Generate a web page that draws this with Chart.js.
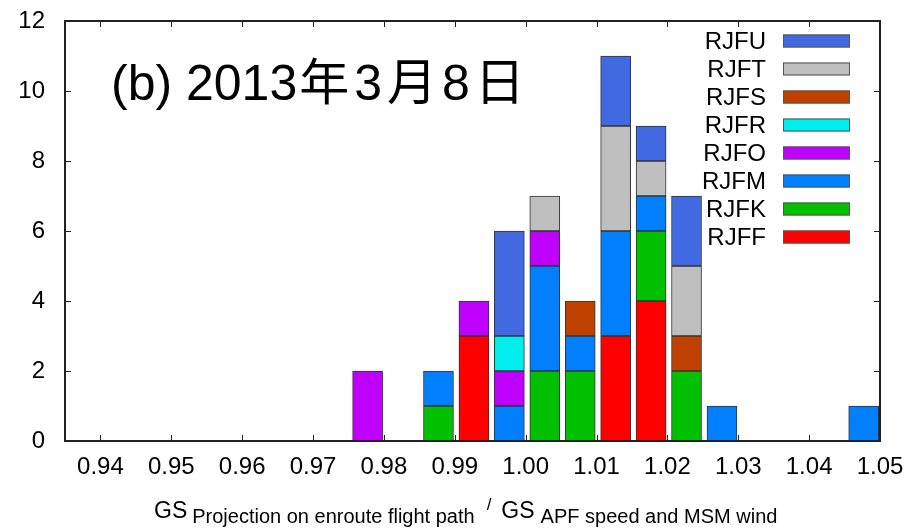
<!DOCTYPE html>
<html>
<head>
<meta charset="utf-8">
<script src="https://cdn.jsdelivr.net/npm/chart.js@4"></script>
<style>
  html, body { margin: 0; padding: 0; background: #fff; }
  #wrap { width: 908px; height: 529px; }
</style>
</head>
<body>
<div id="wrap"><canvas id="chart" width="908" height="529"></canvas></div>
<script>
// lower edge of each histogram bin
const bins = [0.975, 0.985, 0.990, 0.995, 1.000, 1.005, 1.010, 1.015, 1.020, 1.025, 1.045];
const barShift = 0.0027;

// counts per station, bottom of the stack first
const rjff = [0, 0, 3, 0, 0, 0, 3, 4, 0, 0, 0];
const rjfk = [0, 1, 0, 0, 2, 2, 0, 2, 2, 0, 0];
const rjfm = [0, 1, 0, 1, 3, 1, 3, 1, 0, 1, 1];
const rjfo = [2, 0, 1, 1, 1, 0, 0, 0, 0, 0, 0];
const rjfr = [0, 0, 0, 1, 0, 0, 0, 0, 0, 0, 0];
const rjfs = [0, 0, 0, 0, 0, 1, 0, 0, 1, 0, 0];
const rjft = [0, 0, 0, 0, 1, 0, 3, 1, 2, 0, 0];
const rjfu = [0, 0, 0, 3, 0, 0, 2, 1, 2, 0, 0];

const stations = ['RJFF', 'RJFK', 'RJFM', 'RJFO', 'RJFR', 'RJFS', 'RJFT', 'RJFU'];
const counts = [rjff, rjfk, rjfm, rjfo, rjfr, rjfs, rjft, rjfu];
const colors = ['#ff0000', '#00c000', '#0080ff', '#c000ff', '#00eeee', '#c04000', '#bebebe', '#4169e1'];

const xTicks = [0.94, 0.95, 0.96, 0.97, 0.98, 0.99, 1.00, 1.01, 1.02, 1.03, 1.04, 1.05];
const yTicks = [0, 2, 4, 6, 8, 10, 12];

const titleHead = '(b) 2013';
const titleTail = '年3月8日';

Chart.defaults.font.family = "'Liberation Sans', Arial, sans-serif";
Chart.defaults.color = '#000';

const datasets = stations.map(function(name, i) {
  return {
    label: name,
    data: bins.map(function(b, j) {
      return { x: b + barShift, y: counts[i][j] || null };
    }),
    backgroundColor: colors[i],
    borderColor: '#333',
    borderWidth: 1,
    borderSkipped: false,
    barThickness: 30
  };
});

// frame, inward ticks, legend, big label and axis title
const decor = {
  id: 'decor',
  afterDatasetsDraw(chart) {
    const ctx = chart.ctx;
    const a = chart.chartArea;
    const xs = chart.scales.x;
    const ys = chart.scales.y;
    ctx.save();

    ctx.strokeStyle = '#222';
    ctx.lineWidth = 1;
    ctx.beginPath();
    xTicks.forEach(function(v) {
      const px = Math.round(xs.getPixelForValue(v)) + 0.5;
      ctx.moveTo(px, a.bottom); ctx.lineTo(px, a.bottom - 6);
      ctx.moveTo(px, a.top); ctx.lineTo(px, a.top + 6);
    });
    yTicks.forEach(function(v) {
      const py = Math.round(ys.getPixelForValue(v)) + 0.5;
      ctx.moveTo(a.left, py); ctx.lineTo(a.left + 6, py);
      ctx.moveTo(a.right, py); ctx.lineTo(a.right - 6, py);
    });
    ctx.stroke();

    ctx.lineWidth = 2;
    ctx.strokeRect(a.left, a.top, a.right - a.left, a.bottom - a.top);

    // legend (top first)
    ctx.font = "24px 'Liberation Sans', Arial, sans-serif";
    ctx.textAlign = 'right';
    ctx.textBaseline = 'middle';
    chart.data.datasets.slice().reverse().forEach(function(ds, r) {
      const cy = a.top + 20 + r * 28;
      ctx.fillStyle = '#000';
      ctx.fillText(ds.label, a.right - 114, cy + 1);
      ctx.fillStyle = ds.backgroundColor;
      ctx.fillRect(a.right - 97, cy - 6.5, 67, 13);
      ctx.strokeStyle = '#555';
      ctx.lineWidth = 1;
      ctx.strokeRect(a.right - 96.5, cy - 6, 66, 12);
    });

    // big label inside the plot
    ctx.fillStyle = '#000';
    ctx.textAlign = 'left';
    ctx.textBaseline = 'alphabetic';
    ctx.font = "50px 'Liberation Sans', 'Noto Sans CJK JP', sans-serif";
    const tx = a.left + 46;
    const ty = a.top + 79;
    ctx.fillText(titleHead, tx, ty);
    const headW = ctx.measureText(titleHead).width;
    ctx.letterSpacing = '5px';
    ctx.fillText(titleTail, tx + headW + 2, ty);
    ctx.letterSpacing = '0px';

    // x axis title with subscripts
    const big = "23px 'Liberation Sans', Arial, sans-serif";
    const small = "20px 'Liberation Sans', Arial, sans-serif";
    const slashFont = "17px 'Liberation Sans', Arial, sans-serif";
    let x = 154;
    const base = 518;
    ctx.font = big; ctx.fillText('GS', x, base);
    x += ctx.measureText('GS').width + 5;
    ctx.font = small; ctx.fillText('Projection on enroute flight path', x, base + 5);
    x += ctx.measureText('Projection on enroute flight path').width + 12;
    ctx.font = slashFont; ctx.fillText('/', x, base - 8);
    x += ctx.measureText('/').width + 10;
    ctx.font = big; ctx.fillText('GS', x, base);
    x += ctx.measureText('GS').width + 6;
    ctx.font = small; ctx.fillText('APF speed and MSM wind', x, base + 5);

    ctx.restore();
  }
};

new Chart(document.getElementById('chart'), {
  type: 'bar',
  data: { datasets: datasets },
  plugins: [decor],
  options: {
    responsive: false,
    animation: false,
    layout: { padding: { top: 21, right: 28, left: 0, bottom: 0 } },
    plugins: {
      legend: { display: false },
      tooltip: { enabled: false }
    },
    scales: {
      x: {
        type: 'linear',
        stacked: true,
        offset: false,
        min: 0.935,
        max: 1.05,
        afterBuildTicks: function(scale) {
          scale.ticks = xTicks.map(function(v) { return { value: v }; });
        },
        afterFit: function(scale) {
          scale.height = 88;
          scale.paddingLeft = 0;
          scale.paddingRight = 0;
        },
        grid: { display: false, drawTicks: false, offset: false },
        border: { display: false },
        ticks: {
          padding: 12,
          maxRotation: 0,
          autoSkip: false,
          font: { size: 24 },
          callback: function(v) { return v.toFixed(2); }
        }
      },
      y: {
        stacked: true,
        min: 0,
        max: 12,
        afterBuildTicks: function(scale) {
          scale.ticks = yTicks.map(function(v) { return { value: v }; });
        },
        afterFit: function(scale) {
          scale.width = 65;
          scale.paddingTop = 0;
          scale.paddingBottom = 0;
        },
        grid: { display: false, drawTicks: false },
        border: { display: false },
        ticks: {
          padding: 20,
          font: { size: 24 }
        }
      }
    }
  }
});
</script>
</body>
</html>
